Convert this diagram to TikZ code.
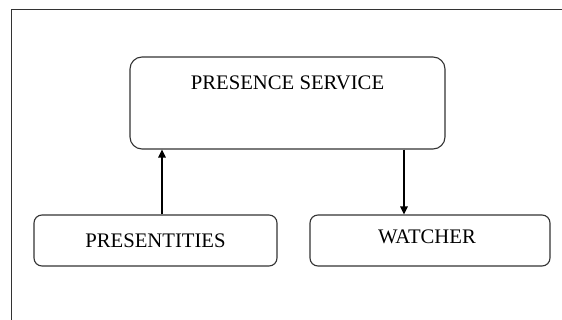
\documentclass[tikz,border=0pt]{standalone}
\usepackage{fontspec}
\setmainfont{Liberation Serif}
\usetikzlibrary{arrows.meta}
\begin{document}
\begin{tikzpicture}[x=1pt,y=-1pt,
  box/.style={draw=black!80, line width=1.1pt, rounded corners=#1, inner sep=0pt},
  lbl/.style={font=\fontsize{20.7}{24}\selectfont, inner sep=0pt},
  conn/.style={draw=black, line width=1.3pt, -{Triangle[length=8pt,width=7.5pt]}}]
\useasboundingbox (0,0) rectangle (562,320);
\coordinate (fbl) at (11.5,320);
\coordinate (ftl) at (11.5,9.7);
\coordinate (ftr) at (562,9.7);
\draw[black!80, line width=1.3pt] (fbl) -- (ftl) -- (ftr);
\node[box=12pt, minimum width=315pt, minimum height=92pt] (ps) at (287.5,103) {};
\node[lbl] (pst) at (287.5,83.3) {PRESENCE SERVICE};
\node[box=8pt, minimum width=243pt, minimum height=51pt] (pr) at (155.5,240.5) {};
\node[lbl] (prt) at (155.5,240.7) {PRESENTITIES};
\node[box=8pt, minimum width=240pt, minimum height=51pt] (wa) at (430,240.5) {};
\node[lbl] (wat) at (427,237.3) {WATCHER};
\draw[conn] ([xshift=6.5pt]pr.north) -- ([xshift=6.5pt]pr.north |- ps.south);
\draw[conn] ([xshift=-26pt]wa.north |- ps.south) -- ([xshift=-26pt]wa.north);
\end{tikzpicture}
\end{document}
